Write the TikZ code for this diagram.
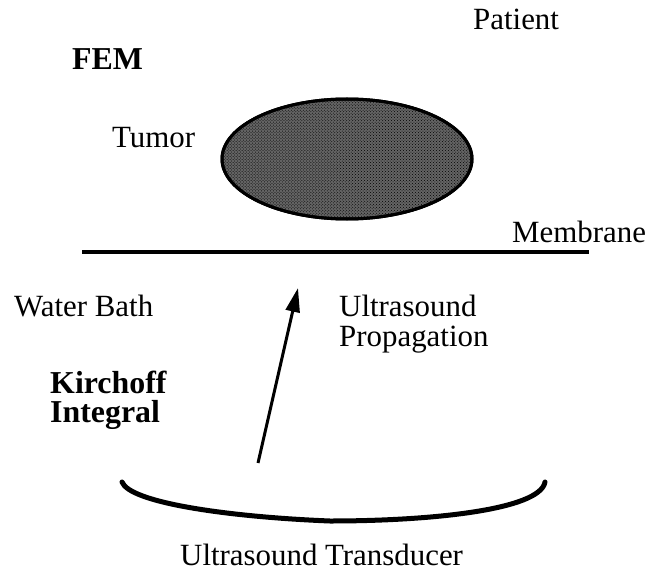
\documentclass[tikz,border=0pt]{standalone}
\usepackage{fontspec}
\setmainfont{Liberation Serif}
\usetikzlibrary{arrows.meta, positioning, shapes.geometric, patterns}
\definecolor{tumorgray}{RGB}{100,100,100}

\begin{document}
\begin{tikzpicture}[x=1bp, y=-1bp,
  lbl/.style={anchor=base west, inner sep=0pt, font=\fontsize{31}{33}\selectfont},
  boldlbl/.style={lbl, font=\fontsize{32}{34}\selectfont\bfseries},
  tumor/.style={ellipse, draw, line width=3bp, fill=tumorgray, minimum width=250bp, minimum height=120bp, inner sep=0pt,
    postaction={pattern=crosshatch dots, pattern color=black}}]
  \useasboundingbox (0,0) rectangle (648,572);
  % patient side
  \node[lbl] (patient) at (473,30) {Patient};
  \node[boldlbl] (fem) at (72,70) {FEM};
  \node[lbl] (tumorlbl) at (112,148) {Tumor};
  \node[tumor] (tumor) at (347,159) {};
  \draw[line width=3bp] (tumor.center) ellipse [x radius=125, y radius=60];
  % membrane
  \coordinate (memL) at (82,252);
  \coordinate (memR) at (589,252);
  \draw[line width=4.5bp] (memL) -- (memR);
  \node[lbl] (memlbl) at (512,242) {Membrane};
  % water bath
  \node[lbl] (water) at (14,316) {Water Bath};
  \node[lbl] (ultra) at (339,316) {Ultrasound};
  \node[lbl] (prop) at ([yshift=-30bp]ultra.base west) {Propagation};
  \node[boldlbl] (kirch) at (50,393) {Kirchoff};
  \node[boldlbl] (integ) at ([yshift=-29bp]kirch.base west) {Integral};
  \coordinate (src) at (258,463);
  \coordinate (dst) at (298,288);
  \draw[line width=3bp, -{Triangle[length=24bp, width=14bp]}] (src) -- (dst);
  % transducer
  \coordinate (trL) at (122,482);
  \coordinate (trB) at (330,521);
  \coordinate (trR) at (545,482);
  \draw[line width=5bp, line cap=round] (trL) .. controls (130,503) and (230,517) .. (trB)
    .. controls (430,521) and (540,510) .. (trR);
  \node[lbl] (trans) at (180,565) {Ultrasound Transducer};
\end{tikzpicture}
\end{document}
